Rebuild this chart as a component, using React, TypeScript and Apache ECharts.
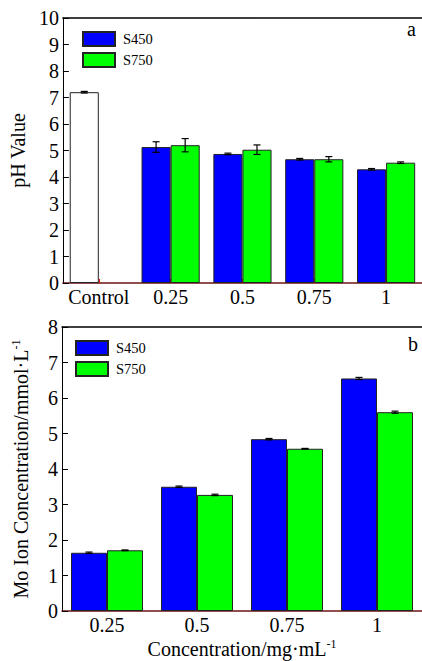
import React, { useEffect, useRef } from "react";
import * as echarts from "echarts";

const catsA = ["Control", "0.25", "0.5", "0.75", "1"];
const s450A = [7.2, 5.13, 4.87, 4.67, 4.29];
const s750A = [null, 5.2, 5.03, 4.67, 4.54];
const err450A = [0.03, 0.2, 0.03, 0.03, 0.03];
const err750A = [null, 0.25, 0.18, 0.1, 0.03];

const catsB = ["0.25", "0.5", "0.75", "1"];
const s450B = [1.64, 3.5, 4.84, 6.55];
const s750B = [1.71, 3.27, 4.57, 5.6];
const err450B = [0.02, 0.02, 0.02, 0.03];
const err750B = [0.01, 0.02, 0.01, 0.03];

const FONT = "'Liberation Serif', 'Times New Roman', serif";
const BLUE = "#0000ff";
const GREEN = "#00ff00";
const AXISRED = "#6e1414";

function errData(vals: (number | null)[], errs: (number | null)[], s: number) {
  const out: any[] = [];
  vals.forEach((v, i) => {
    if (v != null && errs[i] != null) out.push([i, v, errs[i], s]);
  });
  return out;
}

function makeErr(gap: number) {
  return (params: any, api: any) => {
    const idx = api.value(0);
    const v = api.value(1);
    const e = api.value(2);
    const s = api.value(3);
    const band = api.size([1, 0])[0];
    const bw = (band * (1 - gap)) / 2;
    const c = api.coord([idx, v]);
    const x = c[0] + (s === 0 ? -bw / 2 : bw / 2);
    const yt = api.coord([idx, v + e])[1];
    const yb = api.coord([idx, v - e])[1];
    const cap = 3.5;
    const st = { stroke: "#000", lineWidth: 1.2 };
    return {
      type: "group",
      children: [
        { type: "line", shape: { x1: x, y1: yt, x2: x, y2: yb }, style: st },
        { type: "line", shape: { x1: x - cap, y1: yt, x2: x + cap, y2: yt }, style: st },
        { type: "line", shape: { x1: x - cap, y1: yb, x2: x + cap, y2: yb }, style: st },
      ],
    };
  };
}

const rich = {
  a: { fontSize: 20, fontFamily: FONT, color: "#000", lineHeight: 22 },
  s: { fontSize: 12, fontFamily: FONT, color: "#000", verticalAlign: "top", lineHeight: 12 },
};

export default function App() {
  const ref = useRef<HTMLDivElement>(null);
  useEffect(() => {
    const chart = echarts.init(ref.current!, null, { renderer: "svg" });
    const labelStyle = { fontSize: 20, fontFamily: FONT, color: "#000" };
    const yCommon = {
      type: "value",
      splitLine: { show: false },
      axisLine: { show: true, lineStyle: { color: "#000", width: 1 } },
      axisTick: { show: true, inside: true, length: 6, lineStyle: { color: "#000" } },
      axisLabel: { ...labelStyle, margin: 4 },
      nameLocation: "middle",
      nameRotate: 90,
    };
    const xCommon = {
      type: "category",
      axisLine: { show: true, lineStyle: { color: AXISRED, width: 1.5 } },
      axisTick: { show: true, inside: true, length: 4, alignWithLabel: true, interval: 0, lineStyle: { color: "#ff0000" } },
      axisLabel: { ...labelStyle, margin: 4, interval: 0, hideOverlap: false },
    };
    const legendText = { fontSize: 14.5, fontFamily: FONT, color: "#000", padding: [0, 0, 0, 3] };
    const barStyle = (color: string) => ({ color, borderColor: "#222", borderWidth: 1 });
    const legendBase = {
      data: ["S450", "S750"],
      orient: "vertical",
      icon: "rect",
      itemWidth: 32,
      itemHeight: 14,
      itemGap: 5,
      selectedMode: false,
      textStyle: legendText,
    };
    const option: any = {
      animation: false,
      textStyle: { fontFamily: FONT },
      grid: [
        { left: 62, top: 18, width: 360, height: 265 },
        { left: 62, top: 327, width: 360, height: 284 },
      ],
      legend: [
        { ...legendBase, left: 77, top: 26 },
        { ...legendBase, left: 70, top: 335 },
      ],
      xAxis: [
        { ...xCommon, gridIndex: 0, data: catsA },
        {
          ...xCommon,
          gridIndex: 1,
          data: catsB,
          name: "{a|Concentration/mg·mL}{s|-1}",
          nameLocation: "middle",
          nameGap: 27,
          nameTextStyle: { rich },
        },
        {
          type: "category", gridIndex: 0, position: "top", data: catsA,
          axisLine: { show: true, lineStyle: { color: "#000", width: 1.5 } },
          axisTick: { show: false }, axisLabel: { show: false },
        },
        {
          type: "category", gridIndex: 1, position: "top", data: catsB,
          axisLine: { show: true, lineStyle: { color: "#000", width: 1.5 } },
          axisTick: { show: false }, axisLabel: { show: false },
        },
      ],
      yAxis: [
        {
          ...yCommon, gridIndex: 0, min: 0, max: 10, interval: 1,
          name: "pH Value", nameGap: 24,
          nameTextStyle: { fontSize: 20, fontFamily: FONT, color: "#000" },
        },
        {
          ...yCommon, gridIndex: 1, min: 0, max: 8, interval: 1,
          name: "{a|Mo Ion Concentration/mmol·L}{s|-1}", nameGap: 30,
          nameTextStyle: { rich },
        },
      ],
      graphic: [
        { type: "text", left: 407, top: 19, style: { text: "a", fontSize: 20, fontFamily: FONT, fill: "#000" } },
        { type: "text", left: 408, top: 334, style: { text: "b", fontSize: 20, fontFamily: FONT, fill: "#000" } },
      ],
      series: [
        {
          name: "S450", type: "bar", xAxisIndex: 0, yAxisIndex: 0,
          barGap: "0%", barCategoryGap: "19%",
          itemStyle: barStyle(BLUE),
          data: s450A.map((v, i) => (i === 0 ? { value: v, itemStyle: { color: "#fff" } } : v)),
        },
        {
          name: "S750", type: "bar", xAxisIndex: 0, yAxisIndex: 0,
          barGap: "0%", barCategoryGap: "19%",
          itemStyle: barStyle(GREEN),
          data: s750A.map((v) => (v == null ? "-" : v)),
        },
        {
          name: "errA", type: "custom", xAxisIndex: 0, yAxisIndex: 0, z: 10,
          renderItem: makeErr(0.19),
          data: [...errData(s450A, err450A, 0), ...errData(s750A, err750A, 1)],
        },
        {
          name: "S450", type: "bar", xAxisIndex: 1, yAxisIndex: 1,
          barGap: "0%", barCategoryGap: "20%",
          itemStyle: barStyle(BLUE),
          data: s450B,
        },
        {
          name: "S750", type: "bar", xAxisIndex: 1, yAxisIndex: 1,
          barGap: "0%", barCategoryGap: "20%",
          itemStyle: barStyle(GREEN),
          data: s750B,
        },
        {
          name: "errB", type: "custom", xAxisIndex: 1, yAxisIndex: 1, z: 10,
          renderItem: makeErr(0.2),
          data: [...errData(s450B, err450B, 0), ...errData(s750B, err750B, 1)],
        },
      ],
    };
    chart.setOption(option);
    return () => chart.dispose();
  }, []);
  return (
    <div
      ref={ref}
      style={{ position: "fixed", left: 0, top: 0, width: 422, height: 661, background: "#fff" }}
    />
  );
}
